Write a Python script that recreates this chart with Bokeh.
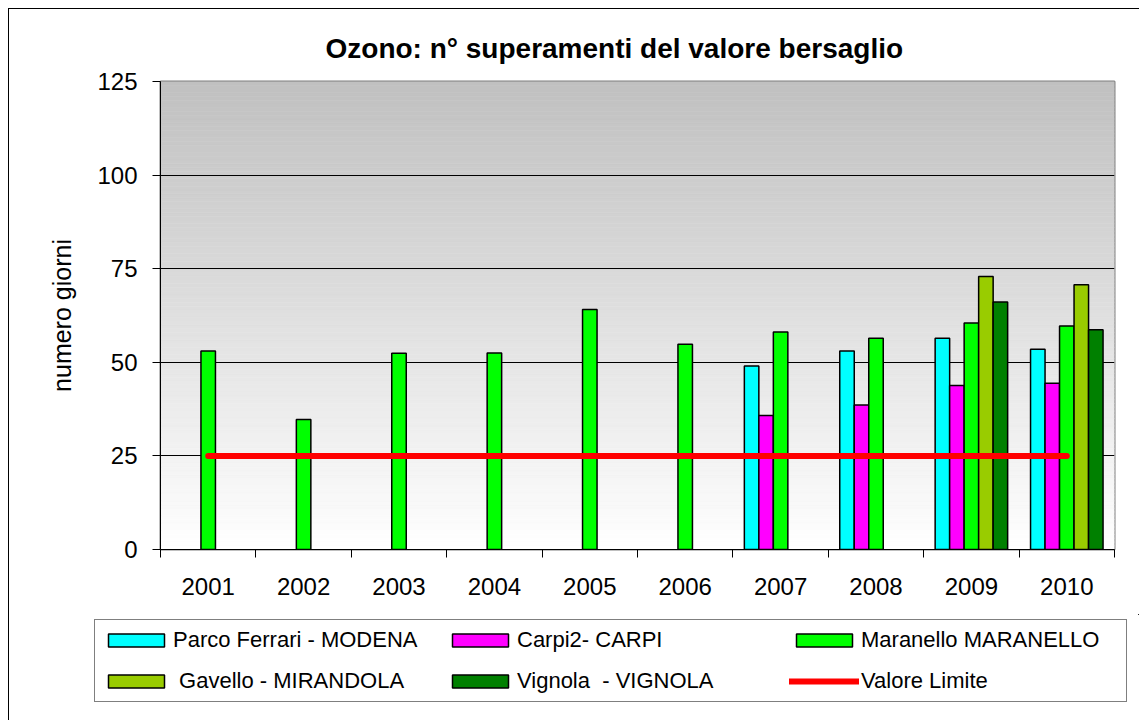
from bokeh.plotting import figure
from bokeh.layouts import column
from bokeh.models import (Range1d, FixedTicker, Legend, LegendItem, ColumnDataSource)
from bokeh.transform import dodge
from bokeh.embed import file_html
from bokeh.resources import INLINE

# ---- data ----
years = [2001, 2002, 2003, 2004, 2005, 2006, 2007, 2008, 2009, 2010]
parco_ferrari = [None, None, None, None, None, None, 49.0, 53.0, 56.4, 53.5]
carpi2 = [None, None, None, None, None, None, 35.8, 38.6, 43.8, 44.4]
maranello = [53.0, 34.7, 52.4, 52.5, 64.1, 54.8, 58.1, 56.4, 60.5, 59.7]
gavello = [None, None, None, None, None, None, None, None, 72.9, 70.7]
vignola = [None, None, None, None, None, None, None, None, 66.1, 58.7]
valore_limite = [25, 25, 25, 25, 25, 25, 25, 25, 25, 25]

series_names = ["Parco Ferrari - MODENA", "Carpi2- CARPI", "Maranello MARANELLO",
                " Gavello - MIRANDOLA", "Vignola  - VIGNOLA"]
series_values = [parco_ferrari, carpi2, maranello, gavello, vignola]
series_colors = ["#00FFFF", "#FF00FF", "#00FF00", "#99CC00", "#008000"]
limit_name = "Valore Limite"
title_text = "Ozono: n° superamenti del valore bersaglio"
y_label = "numero giorni"
y_ticks = [0, 25, 50, 75, 100, 125]

FONT = "Liberation Sans"

p = figure(width=1130, height=605, output_backend="svg", toolbar_location=None,
           x_range=Range1d(years[0] - 0.5, years[-1] + 0.5),
           y_range=Range1d(y_ticks[0], y_ticks[-1]),
           frame_width=954, frame_height=468,
           min_border_left=151, min_border_right=25,
           min_border_top=72, min_border_bottom=65,
           title=title_text)
p.background_fill_color = "white"
p.border_fill_color = "white"
p.outline_line_color = "#808080"
p.outline_line_width = 2

# title
p.title.align = "left"
p.title.text_font = FONT
p.title.text_font_size = "28px"
p.title.text_font_style = "bold"
p.title.text_color = "black"
p.title.standoff = 36
p.title.offset = 165

# gradient background (decoration)
nb = 125
ystart = p.y_range.start
yend = p.y_range.end
step = (yend - ystart) / nb
bottoms = [ystart + i * step for i in range(nb)]
tops = [b + step for b in bottoms]
cols = []
for i in range(nb):
    frac = (i + 0.5) / nb  # 0 at bottom, 1 at top
    v = int(round(255 - frac * (255 - 192)))
    cols.append("#%02x%02x%02x" % (v, v, v))
p.quad(left=p.x_range.start, right=p.x_range.end, bottom=bottoms, top=tops,
       fill_color=cols, line_color=cols, line_width=0.6, level="image")

# axes
p.xgrid.visible = False
p.ygrid.ticker = FixedTicker(ticks=y_ticks[1:-1])
p.ygrid.grid_line_color = "black"
p.ygrid.grid_line_width = 1

p.yaxis.ticker = FixedTicker(ticks=y_ticks)
p.yaxis.axis_label = y_label
p.yaxis.axis_label_text_font = FONT
p.yaxis.axis_label_text_font_size = "25px"
p.yaxis.axis_label_text_font_style = "normal"
p.yaxis.axis_label_text_color = "black"
p.yaxis.axis_label_standoff = 18
p.yaxis.major_label_text_font = FONT
p.yaxis.major_label_text_font_size = "24px"
p.yaxis.major_label_text_color = "black"
p.yaxis.major_label_standoff = 15
p.yaxis.major_tick_out = 8
p.yaxis.major_tick_in = 0
p.yaxis.minor_tick_out = 0
p.yaxis.minor_tick_in = 0
p.yaxis.axis_line_color = "black"
p.yaxis.major_tick_line_color = "black"

bounds = [y - 0.5 for y in years] + [years[-1] + 0.5]
p.xaxis.ticker = FixedTicker(ticks=years, minor_ticks=bounds)
p.xaxis.major_label_overrides = {y: str(y) for y in years}
p.xaxis.major_label_text_font = FONT
p.xaxis.major_label_text_font_size = "24px"
p.xaxis.major_label_text_color = "black"
p.xaxis.major_label_standoff = 20
p.xaxis.major_tick_out = 0
p.xaxis.major_tick_in = 0
p.xaxis.minor_tick_out = 8
p.xaxis.minor_tick_in = 0
p.xaxis.minor_tick_line_color = "black"
p.xaxis.axis_line_color = "black"

# legend strip (separate canvas, so the legend is not clipped by the plot frame)
p2 = figure(width=1130, height=106, output_backend="svg", toolbar_location=None,
            x_range=Range1d(-10, -9), y_range=Range1d(-10, -9),
            x_axis_location=None, y_axis_location=None,
            min_border_left=0, min_border_right=0, min_border_top=0, min_border_bottom=0)
p2.grid.visible = False
p2.outline_line_color = None
p2.background_fill_color = "white"
p2.border_fill_color = "white"
for fig in (p, p2):
    try:
        fig.frame_align = False
    except Exception:
        pass

# bars
bar_w = 0.152
items = []
for k, (name, vals, col) in enumerate(zip(series_names, series_values, series_colors)):
    xs = [y for y, v in zip(years, vals) if v is not None]
    ys = [v for v in vals if v is not None]
    src = ColumnDataSource(dict(x=xs, top=ys))
    style = dict(x=dodge("x", (k - 2) * bar_w, range=p.x_range), top="top", bottom=0,
                 width=bar_w, source=src, fill_color=col, line_color="black",
                 line_width=1.5)
    p.vbar(**style)
    r2 = p2.vbar(**style)
    items.append(LegendItem(label=name, renderers=[r2]))

lsrc = ColumnDataSource(dict(x=years, y=valore_limite))
lstyle = dict(x="x", y="y", source=lsrc, line_color="#FF0000", line_width=6, line_cap="round")
p.line(**lstyle)
lr2 = p2.line(**lstyle)
items.append(LegendItem(label=limit_name, renderers=[lr2]))

legend = Legend(items=items, location=(85, 18), orientation="horizontal", ncols=3)
legend.label_text_font = FONT
legend.label_text_font_size = "22px"
legend.label_text_color = "black"
legend.glyph_width = 70
legend.glyph_height = 16
legend.label_standoff = 2
legend.label_width = 259
legend.label_height = 28
legend.spacing = 13
legend.padding = 6
legend.margin = 0
legend.border_line_color = "black"
legend.border_line_width = 1.5
legend.background_fill_color = "white"
legend.background_fill_alpha = 1
p2.add_layout(legend, "center")

layout = column(p, p2, spacing=0,
                styles={"margin-left": "8px", "margin-top": "8px",
                        "border-top": "1px solid black", "border-left": "1px solid black"})

open("out.html", "w").write(file_html(layout, INLINE))
